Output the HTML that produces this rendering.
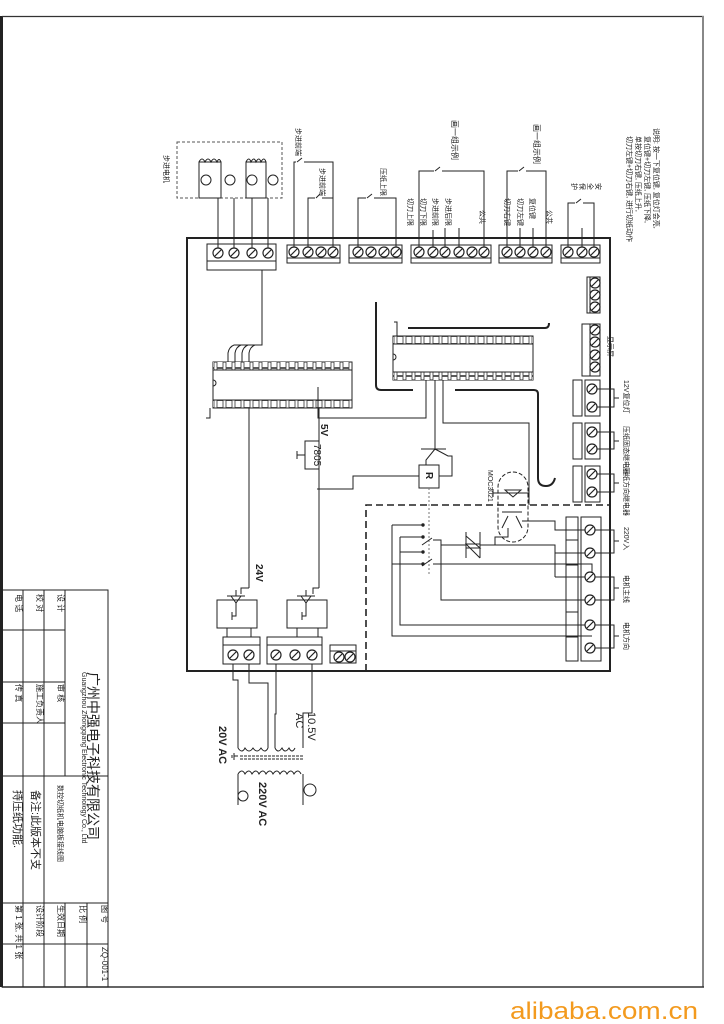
<!DOCTYPE html>
<html><head><meta charset="utf-8"><style>
html,body{margin:0;padding:0;background:#fff;width:724px;height:1024px;overflow:hidden}
svg{display:block}
text{font-family:"Liberation Sans","Noto Sans CJK SC",sans-serif;fill:#222}
</style></head><body>
<svg width="724" height="1024" viewBox="0 0 724 1024" xmlns="http://www.w3.org/2000/svg">
<defs>
<pattern id="pins" x="0" y="0" width="9" height="8" patternUnits="userSpaceOnUse">
<rect x="1" y="0.5" width="6" height="7" fill="#fff" stroke="#333" stroke-width="0.8"/>
</pattern>
<g id="scr"><circle r="5" fill="#fff" stroke="#222" stroke-width="1.2"/><line x1="-3" y1="3" x2="3" y2="-3" stroke="#222" stroke-width="1.2"/></g>
</defs>
<!-- frame -->
<rect x="0" y="16" width="3" height="971" fill="#222"/>
<line x1="2" y1="16.5" x2="704" y2="16.5" stroke="#333" stroke-width="1.2"/>
<line x1="703" y1="16" x2="703" y2="987" stroke="#888" stroke-width="2"/>
<line x1="2" y1="987" x2="704" y2="987" stroke="#333" stroke-width="1.5"/>

<g stroke="#222" fill="none" stroke-width="1">
<!-- title block -->
<rect x="2" y="590" width="106" height="397"/>
<line x1="23" y1="590" x2="23" y2="987"/>
<line x1="44" y1="590" x2="44" y2="987"/>
<line x1="65" y1="590" x2="65" y2="776"/>
<line x1="65" y1="903" x2="65" y2="987"/>
<line x1="87" y1="903" x2="87" y2="987"/>
<line x1="2" y1="630" x2="65" y2="630"/>
<line x1="2" y1="682" x2="65" y2="682"/>
<line x1="2" y1="723" x2="65" y2="723"/>
<line x1="2" y1="776" x2="108" y2="776"/>
<line x1="2" y1="903" x2="108" y2="903"/>
<line x1="2" y1="944" x2="108" y2="944"/>

<!-- main board -->
<rect x="187" y="238" width="423" height="433" stroke-width="2"/>
<path d="M366 671 V505 H610" stroke-dasharray="7 4" stroke-width="1.6"/>

<!-- motor dashed box -->
<rect x="177" y="142" width="105" height="56" stroke-dasharray="3 2" stroke="#555"/>
<rect x="199" y="162" width="22" height="36"/>
<rect x="246" y="162" width="20" height="36"/>
<path d="M199 162 q3 -6 6 0 q3 -6 6 0 q3 -6 6 0 q2 -5 4 0"/>
<path d="M246 162 q3 -6 5 0 q3 -6 5 0 q3 -6 5 0 q3 -6 5 0"/>
<circle cx="206" cy="180" r="5"/><circle cx="230" cy="180" r="5"/><circle cx="252" cy="180" r="5"/><circle cx="273" cy="180" r="5"/>
<line x1="218" y1="198" x2="218" y2="252"/><line x1="234" y1="198" x2="234" y2="252"/><line x1="252" y1="198" x2="252" y2="252"/><line x1="268" y1="198" x2="268" y2="252"/>

<!-- top terminal blocks -->
<rect x="207" y="244" width="69" height="26"/><line x1="207" y1="261" x2="276" y2="261"/>
<rect x="287" y="245" width="53" height="18"/><line x1="287" y1="258" x2="340" y2="258"/>
<rect x="349" y="245" width="53" height="18"/><line x1="349" y1="258" x2="402" y2="258"/>
<rect x="411" y="245" width="80" height="18"/><line x1="411" y1="258" x2="491" y2="258"/>
<rect x="499" y="245" width="53" height="18"/><line x1="499" y1="258" x2="552" y2="258"/>
<rect x="561" y="245" width="39" height="18"/><line x1="561" y1="258" x2="600" y2="258"/>

<!-- switches -->
<path d="M294 252 V162 H296 M302 158 L297 162 M304 162 H333 V252"/>
<path d="M308 252 V198 H315 M320 194 L316 198 M322 198 H333"/>
<path d="M358 252 V198 H366 M372 194 L367 198 M374 198 H396 V252"/>
<path d="M419 252 V171 H434 M440 167 L435 171 M442 171 H484 V252"/>
<line x1="433" y1="252" x2="433" y2="230"/><line x1="445" y1="252" x2="445" y2="228"/><line x1="459" y1="252" x2="459" y2="228"/>
<path d="M507 252 V171 H518 M524 167 L519 171 M526 171 H546 V252"/>
<line x1="520" y1="252" x2="520" y2="228"/><line x1="533" y1="252" x2="533" y2="228"/>
<path d="M568 252 V203 H575 M581 199 L576 203 M583 203 H594 V252"/>
<line x1="582" y1="252" x2="582" y2="228"/>

<!-- right small blocks -->
<rect x="590" y="277" width="10" height="36"/><rect x="587" y="277" width="3" height="36"/>
<rect x="590" y="324" width="10" height="52"/><rect x="582" y="324" width="8" height="52"/>
<rect x="585" y="380" width="15" height="36"/><rect x="573" y="380" width="9" height="36"/>
<rect x="585" y="423" width="15" height="36"/><rect x="573" y="423" width="9" height="36"/>
<rect x="585" y="466" width="15" height="36"/><rect x="573" y="466" width="9" height="36"/>
<path d="M592 389 H614 V407 H592 M614 398 H619"/>
<path d="M592 432 H614 V449 H592 M614 441 H619"/>
<path d="M592 474 H614 V492 H592 M614 483 H619"/>
<rect x="581" y="517" width="20" height="144"/><rect x="566" y="517" width="12" height="144"/>
<line x1="566" y1="540" x2="578" y2="540"/><line x1="566" y1="565" x2="578" y2="565"/><line x1="566" y1="612" x2="578" y2="612"/><line x1="566" y1="637" x2="578" y2="637"/>
<path d="M592 530 H614 V553 H592 M614 541 H619"/>
<path d="M592 577 H614 V600 H592 M614 588 H619"/>
<path d="M592 625 H614 V648 H592 M614 636 H619"/>

<!-- chip 1 -->
<rect x="213" y="362" width="139" height="46" fill="#fff"/>
<rect x="213" y="362" width="139" height="8" fill="url(#pins)" stroke="none"/>
<rect x="213" y="400" width="139" height="8" fill="url(#pins)" stroke="none"/>
<line x1="213" y1="370" x2="352" y2="370"/><line x1="213" y1="400" x2="352" y2="400"/>
<path d="M213 380 a3 3 0 0 1 0 6"/>
<path d="M262 270 V345 H234"/>
<path d="M234 345 q-5 2 -6 8 V362 M241 345 q-5 2 -6 8 V362 M248 345 q-5 2 -6 8 V362 M255 345 q-5 2 -6 8 V362"/>
<path d="M210 408 V418 H206"/>
<!-- chip 2 -->
<rect x="393" y="336" width="140" height="44" fill="#fff"/>
<rect x="393" y="336" width="140" height="8" fill="url(#pins)" stroke="none"/>
<rect x="393" y="372" width="140" height="8" fill="url(#pins)" stroke="none"/>
<line x1="393" y1="344" x2="533" y2="344"/><line x1="393" y1="372" x2="533" y2="372"/>
<path d="M393 354 a3 3 0 0 1 0 6"/>
<path d="M397 336 V322 H394"/>
<path d="M408 328 H545 q4 0 4 -5" stroke-width="2"/>
<path d="M376 302 V385 q0 5 5 5 H413" stroke-width="2"/>
<path d="M455 390 H534 q4 0 4 4 V478 q0 8 8 8 q7 0 9 -8" stroke-width="2"/>
<path d="M426 380 V418 H318 V387"/>
<path d="M443 380 V423 H529 V505"/>
<path d="M435 380 V450"/>
<path d="M421 449 H446 M435 449 L426 460 V465 M435 449 L448 456 H452 V476 H439"/>
<rect x="419" y="465" width="20" height="23" fill="#fff"/>
<path d="M419 476 H353 V489 H317"/>
<line x1="429" y1="488" x2="429" y2="576" stroke-dasharray="2 2" stroke="#777"/>
<line x1="319" y1="408" x2="319" y2="441"/>
<rect x="305" y="441" width="14" height="28" fill="#fff"/>
<line x1="319" y1="469" x2="319" y2="588"/>
<path d="M305 455 H297 M297 451 V459"/>
<line x1="249" y1="408" x2="249" y2="588"/>
<!-- MOC -->
<rect x="498" y="472" width="30" height="70" rx="15" stroke-dasharray="4 2"/>
<path d="M493 493 H529 M493 489 V497 M505 490 L513 497 L521 490 Z M502 512 H522 M508 516 L502 528 M516 516 L522 528"/>
<path d="M508 528 V537 H495 V545 H481"/>
<path d="M522 521 H555 V530 H592"/>
<path d="M466 532 V558 M480 532 V558 M466 536 L480 548 L466 548 M480 558 L466 544 L480 544"/>
<path d="M480 545 H555 V553 H592"/>
<path d="M555 553 V577"/>
<path d="M466 545 H441"/>
<path d="M392 525 H423 M400 537 H423 M400 552 H423 M392 564 H423"/>
<path d="M392 525 V636 H592 M400 537 V625 H592"/>
<path d="M422 545 L432 538 M422 566 L432 559 M433 540 H441 V600 H592 M433 564 H592 V577"/>
<circle cx="423" cy="525" r="1.2" fill="#222"/><circle cx="423" cy="537" r="1.2" fill="#222"/><circle cx="423" cy="552" r="1.2" fill="#222"/><circle cx="423" cy="564" r="1.2" fill="#222"/>
<path d="M441 545 V540"/>
<line x1="555" y1="577" x2="592" y2="577"/>

<!-- bottom regulators -->
<path d="M249 588 H241 V594 M319 588 H313 V594"/>
<rect x="217" y="600" width="40" height="28"/>
<rect x="287" y="600" width="40" height="28"/>
<path d="M227 596 H245 M231 596 L236 603 L241 596 Z M236 590 V596 M236 603 V616 H232 M232 612 V620"/>
<path d="M297 596 H315 M301 596 L306 603 L311 596 Z M306 590 V596 M306 603 V616 H302 M302 612 V620"/>
<path d="M227 628 V637 M251 628 V637 M297 628 V637 M318 628 V637"/>
<rect x="223" y="637" width="37" height="8"/>
<rect x="223" y="645" width="37" height="19"/>
<rect x="267" y="637" width="55" height="8"/>
<rect x="267" y="645" width="55" height="19"/>
<rect x="330" y="645" width="26" height="6"/>
<rect x="330" y="651" width="26" height="12"/>
<path d="M233 664 V680 H238 V748 M249 664 V683 H268 V748 M276 664 V714 H275 V748 M312 664 V713 H303 V748"/>
<path d="M238 748 q4 6 7 0 q4 6 8 0 q4 6 8 0 q4 6 7 0"/>
<path d="M275 748 q3 6 7 0 q3 6 7 0 q3 6 6 0"/>
<line x1="240" y1="756" x2="304" y2="756" stroke-dasharray="3 1"/>
<line x1="240" y1="759" x2="304" y2="759" stroke-dasharray="3 1"/>
<path d="M234 756 H238 M234 753 V760 M232 755 V758"/>
<path d="M238 774 q4 -6 7 0 q4 -6 7 0 q4 -6 7 0 q4 -6 7 0 q4 -6 7 0 q4 -6 7 0 q4 -6 7 0 q4 -6 7 0 q4 -6 7 0 M238 774 V805 M303 774 V805"/>
<circle cx="243" cy="796" r="5"/><circle cx="310" cy="790" r="6"/>
</g>
<g>
<use href="#scr" x="218" y="253"/><use href="#scr" x="234" y="253"/><use href="#scr" x="252" y="253"/><use href="#scr" x="268" y="253"/>
<use href="#scr" x="294" y="252"/><use href="#scr" x="308" y="252"/><use href="#scr" x="321" y="252"/><use href="#scr" x="333" y="252"/>
<use href="#scr" x="358" y="252"/><use href="#scr" x="371" y="252"/><use href="#scr" x="384" y="252"/><use href="#scr" x="396" y="252"/>
<use href="#scr" x="419" y="252"/><use href="#scr" x="433" y="252"/><use href="#scr" x="445" y="252"/><use href="#scr" x="459" y="252"/><use href="#scr" x="472" y="252"/><use href="#scr" x="484" y="252"/>
<use href="#scr" x="507" y="252"/><use href="#scr" x="520" y="252"/><use href="#scr" x="533" y="252"/><use href="#scr" x="546" y="252"/>
<use href="#scr" x="568" y="252"/><use href="#scr" x="582" y="252"/><use href="#scr" x="594" y="252"/>
<use href="#scr" x="595" y="283"/><use href="#scr" x="595" y="295"/><use href="#scr" x="595" y="307"/>
<use href="#scr" x="595" y="330"/><use href="#scr" x="595" y="342"/><use href="#scr" x="595" y="355"/><use href="#scr" x="595" y="367"/>
<use href="#scr" x="592" y="389"/><use href="#scr" x="592" y="407"/><use href="#scr" x="592" y="432"/><use href="#scr" x="592" y="449"/><use href="#scr" x="592" y="474"/><use href="#scr" x="592" y="492"/>
<use href="#scr" x="590" y="530"/><use href="#scr" x="590" y="553"/><use href="#scr" x="590" y="577"/><use href="#scr" x="590" y="600"/><use href="#scr" x="590" y="625"/><use href="#scr" x="590" y="648"/>
<use href="#scr" x="233" y="655"/><use href="#scr" x="249" y="655"/>
<use href="#scr" x="276" y="655"/><use href="#scr" x="295" y="655"/><use href="#scr" x="312" y="655"/>
<use href="#scr" x="339" y="657"/><use href="#scr" x="350" y="657"/>
</g>

<g font-size="7">
<text transform="translate(164,155) rotate(90)">步进电机</text>
<text transform="translate(296,128) rotate(90)">步进前端</text>
<text transform="translate(320,168) rotate(90)">步进前端</text>
<text transform="translate(381,168) rotate(90)">压纸上限</text>
<text transform="translate(452,120) rotate(90)" font-size="8">画一组示例</text>
<text transform="translate(446,198) rotate(90)">步进后限</text>
<text transform="translate(433,198) rotate(90)">步进前限</text>
<text transform="translate(421,198) rotate(90)">切刀下限</text>
<text transform="translate(408,198) rotate(90)">切刀上限</text>
<text transform="translate(480,210) rotate(90)">公共</text>
<text transform="translate(534,124) rotate(90)" font-size="8">画一组示例</text>
<text transform="translate(530,198) rotate(90)">复位键</text>
<text transform="translate(518,198) rotate(90)">切刀左键</text>
<text transform="translate(505,198) rotate(90)">切刀右键</text>
<text transform="translate(547,210) rotate(90)">公共</text>
<text transform="translate(596,183) rotate(90)">安</text>
<text transform="translate(588,183) rotate(90)">全</text>
<text transform="translate(580,183) rotate(90)">保</text>
<text transform="translate(572,183) rotate(90)">护</text>
<text transform="translate(654,128) rotate(90)">说明: 按一下复位键, 复位灯会亮,</text>
<text transform="translate(645,136) rotate(90)">复位键+切刀左键, 压纸下降,</text>
<text transform="translate(636,136) rotate(90)">单按切刀右键, 压纸上升,</text>
<text transform="translate(627,136) rotate(90)">切刀左键+切刀右键, 进行切纸动作</text>
<text transform="translate(608,336) rotate(90)">显示屏</text>
<text transform="translate(624,380) rotate(90)">12V复位灯</text>
<text transform="translate(624,426) rotate(90)">压纸固态继电器</text>
<text transform="translate(624,467) rotate(90)">压纸方向继电器</text>
<text transform="translate(624,527) rotate(90)">220V入</text>
<text transform="translate(624,575) rotate(90)">电机主线</text>
<text transform="translate(624,622) rotate(90)">电机方向</text>
<text transform="translate(488,470) rotate(90)">MOC3021</text>
</g>
<g font-size="10" font-weight="bold">
<text transform="translate(321,424) rotate(90)">5V</text>
<text transform="translate(314,444) rotate(90)" font-weight="normal">7805</text>
<text transform="translate(256,564) rotate(90)">24V</text>
<text transform="translate(426,472) rotate(90)">R</text>
</g>
<g font-size="11">
<text transform="translate(308,712) rotate(90)">10.5V</text>
<text transform="translate(296,713) rotate(90)">AC</text>
<text transform="translate(219,726) rotate(90)" font-weight="bold">20V AC</text>
<text transform="translate(259,782) rotate(90)" font-weight="bold">220V AC</text>
</g>
<g font-size="8">
<text transform="translate(58,594) rotate(90)">设   计</text>
<text transform="translate(37,594) rotate(90)">校   对</text>
<text transform="translate(16,594) rotate(90)">电   话</text>
<text transform="translate(58,684) rotate(90)">审   核</text>
<text transform="translate(37,684) rotate(90)">施工负责人</text>
<text transform="translate(16,684) rotate(90)">传   真</text>
<text transform="translate(58,785) rotate(90)" font-size="7">数控切纸机电脑板接线图</text>
<text transform="translate(80,905) rotate(90)">比   例</text>
<text transform="translate(102,905) rotate(90)">图   号</text>
<text transform="translate(102,947) rotate(90)">ZQ-001-1</text>
<text transform="translate(58,905) rotate(90)">生效日期</text>
<text transform="translate(37,905) rotate(90)">设计阶段</text>
<text transform="translate(16,905) rotate(90)">第 1 张, 共 1 张</text>
<text transform="translate(82,672) rotate(90)" font-size="7">Guangzhou Zhongqiang Electronic Technology Co., Ltd</text>
</g>
<text transform="translate(88,672) rotate(90)" font-size="14">广州中强电子科技有限公司</text>
<text transform="translate(32,790) rotate(90)" font-size="11">备注:此版本不支</text>
<text transform="translate(14,790) rotate(90)" font-size="11">持压纸功能.</text>
<text x="510" y="1019" font-size="24" textLength="188" lengthAdjust="spacingAndGlyphs" style="fill:#f39a1e">alibaba.com.cn</text>
</svg>
</body></html>
